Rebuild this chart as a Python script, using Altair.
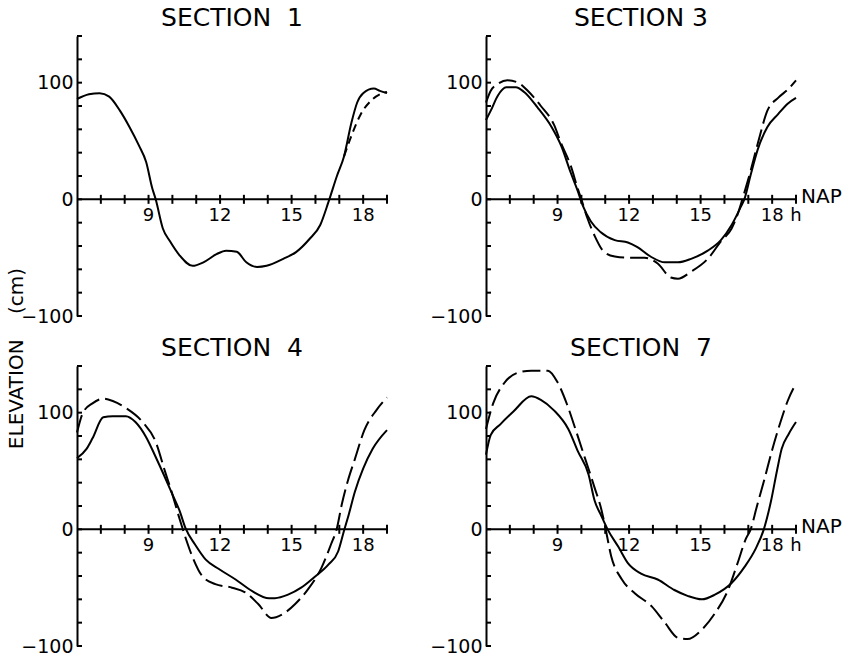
import altair as alt
import pandas as pd

# ---------------- data (hours, elevation in cm relative to NAP) ----------------
s1_solid_h = [6.0, 6.5, 6.95, 7.35, 7.8, 8.2, 8.6, 8.9, 9.15, 9.3, 9.6, 9.9, 10.3, 10.85, 11.3, 11.85,
              12.25, 12.7, 13.1, 13.55, 13.95, 14.65, 15.2, 15.75, 16.2, 16.55, 16.9, 17.2, 17.5,
              17.75, 18.0, 18.45, 18.7, 19.0]
s1_solid_cm = [86, 90, 91, 88, 76, 62, 46, 32, 10, 0, -25, -36, -48, -57, -54, -47,
               -44, -45, -54, -58, -57, -51, -45, -34, -22, -2, 20, 37, 65,
               83, 91, 95, 93, 91]
s1_dash_h = [17.2, 17.5, 17.9, 18.3, 18.7, 19.0]
s1_dash_cm = [37, 54, 73, 84, 90, 92]

s3_solid_h = [6.0, 6.2, 6.5, 6.85, 7.25, 7.6, 8.15, 8.75, 9.15, 9.55, 9.85, 10.05, 10.4, 10.8, 11.4,
              11.95, 12.35, 12.9, 13.5, 14.05, 14.6, 15.3, 15.85, 16.3, 16.65, 16.85, 17.1, 17.4,
              17.8, 18.25, 18.65, 19.0]
s3_solid_cm = [68, 76, 89, 96, 96, 92, 79, 62, 46, 23, 7, -5, -19, -28, -35,
               -37, -41, -49, -54, -54, -51, -44, -35, -22, -8, 1, 21, 43,
               62, 73, 82, 87]
s3_dash_h = [6.0, 6.2, 6.5, 6.9, 7.35, 7.75, 8.3, 8.85, 9.15, 9.55, 9.85, 10.0, 10.25, 10.55, 10.95,
             11.4, 11.95, 12.65, 13.2, 13.75, 14.05, 14.6, 15.3, 15.85, 16.3, 16.55, 16.75, 17.05,
             17.4, 17.8, 18.25, 18.65, 19.0]
s3_dash_cm = [83, 93, 99, 102, 100, 93, 80, 64, 48, 29, 9, 0, -16, -31, -45,
              -49, -50, -50, -55, -67, -68, -62, -51, -36, -25, -13, 0, 21,
              48, 76, 87, 94, 102]

s4_solid_h = [6.0, 6.4, 6.65, 7.1, 7.5, 8.05, 8.45, 8.9, 9.3, 9.7, 10.0, 10.3, 10.55, 10.95, 11.4,
              11.95, 12.65, 13.35, 14.05, 14.3, 14.85, 15.4, 15.95, 16.55, 16.95, 17.2, 17.4,
              17.65, 18.0, 18.4, 19.0]
s4_solid_cm = [61, 69, 78, 96, 97, 97, 92, 79, 62, 44, 30, 16, 1, -13, -26,
               -34, -43, -53, -59, -59, -56, -50, -41, -30, -19, -1, 13,
               32, 52, 69, 85]
s4_dash_h = [6.0, 6.25, 6.65, 7.1, 7.5, 8.05, 8.75, 9.3, 9.7, 10.0, 10.3, 10.5, 10.85, 11.25, 11.8,
             12.5, 13.05, 13.6, 14.15, 14.6, 15.15, 15.7, 16.25, 16.65, 16.9, 17.1, 17.35, 17.65,
             18.05, 18.55, 19.0]
s4_dash_cm = [83, 100, 108, 112, 110, 104, 92, 75, 49, 30, 9, -4, -24, -40, -47,
              -50, -54, -64, -76, -73, -64, -51, -33, -13, 1, 21, 41, 60,
              85, 102, 113]

s7_solid_h = [6.0, 6.2, 6.6, 7.15, 7.9, 8.3, 8.85, 9.45, 9.85, 10.3, 10.55, 10.85, 11.1, 11.55,
              11.95, 12.5, 13.2, 13.9, 14.45, 15.05, 15.6, 16.3, 16.85, 17.3, 17.65, 17.95,
              18.2, 18.4, 18.7, 19.0]
s7_solid_cm = [64, 81, 90, 101, 114, 111, 102, 86, 67, 47, 25, 11, 0, -15,
               -29, -38, -43, -52, -57, -60, -56, -46, -32, -17, 0, 24,
               50, 69, 82, 92]
s7_dash_h = [6.0, 6.3, 6.75, 7.3, 7.9, 8.6, 9.0, 9.4, 9.75, 10.15, 10.55, 10.85, 11.0, 11.25,
             11.7, 12.25, 12.95, 13.5, 14.05, 14.45, 15.05, 15.6, 16.15, 16.55, 16.9, 17.1, 17.35,
             17.65, 18.0, 18.35, 18.65, 19.0]
s7_dash_cm = [86, 108, 125, 134, 136, 136, 126, 107, 86, 61, 36, 16, 2, -23,
              -43, -55, -66, -80, -93, -94, -86, -72, -52, -29, -8, 0, 19,
              41, 68, 92, 110, 125]

titles = ["SECTION\u00a0\u00a01", "SECTION\u00a03", "SECTION\u00a0\u00a04", "SECTION\u00a0\u00a07"]
y_label_values = [-100, 0, 100]
y_tick_values = [-100, -80, -60, -40, -20, 0, 20, 40, 60, 80, 100, 120, 140]
x_tick_hours = [7, 8, 9, 10, 11, 12, 13, 14, 15, 16, 17, 18, 19]
x_label_hours = [9, 12, 15, 18]
x_labels = ["9", "12", "15", "18"]
y_title = "ELEVATION\u00a0\u00a0\u00a0\u00a0(cm)"

FONT = "DejaVu Sans"
XDOM = [6, 19]
YDOM = [-100, 140]


def panel(title, sh, scm, dh, dcm, dash, nap, ytitle=""):
    xs = alt.Scale(domain=XDOM, nice=False, zero=False)
    ys = alt.Scale(domain=YDOM, nice=False, zero=False)
    axis_kw = dict(values=y_label_values, ticks=False, grid=False, domainColor="black",
                   domainWidth=2, labelFontSize=19, labelPadding=4, labelFlush=False,
                   labelColor="black", labelFont=FONT, title=ytitle)
    if ytitle:
        # shared axis title, placed below the first panel (centred between the two rows)
        axis_kw.update(titleFontSize=20, titleFont=FONT, titleFontWeight="normal",
                       titleColor="black", titleX=-61, titleY=322, titleAngle=270,
                       titleAlign="center", titleBaseline="middle")
    X = alt.X("h:Q", scale=xs, axis=None)
    Y = alt.Y("cm:Q", scale=ys, axis=alt.Axis(**axis_kw))

    ytick_df = pd.DataFrame({"cm": y_tick_values})
    yticks = alt.Chart(ytick_df).mark_rule(color="black", strokeWidth=2).encode(
        y=Y, x=alt.value(0), x2=alt.value(5))

    base_df = pd.DataFrame({"h": [XDOM[0]], "h2": [XDOM[1]], "cm": [0]})
    xline = alt.Chart(base_df).mark_rule(color="black", strokeWidth=2).encode(
        x=X, x2="h2:Q", y=Y)

    xt_df = pd.DataFrame({"h": x_tick_hours, "cm": [0] * len(x_tick_hours)})
    xticks = alt.Chart(xt_df).mark_tick(orient="vertical", size=9, thickness=2,
                                        color="black", opacity=1).encode(x=X, y=Y)

    xl_df = pd.DataFrame({"h": x_label_hours, "cm": [0] * len(x_label_hours), "t": x_labels})
    xlabels = alt.Chart(xl_df).mark_text(baseline="top", dy=8, fontSize=18, font=FONT,
                                         color="black").encode(x=X, y=Y, text="t:N")

    solid = alt.Chart(pd.DataFrame({"h": sh, "cm": scm})).mark_line(
        color="black", strokeWidth=2, interpolate="monotone").encode(x=X, y=Y)
    dashed = alt.Chart(pd.DataFrame({"h": dh, "cm": dcm})).mark_line(
        color="black", strokeWidth=2, strokeDash=dash, interpolate="monotone").encode(x=X, y=Y)

    layers = [yticks, xline, xticks, xlabels, solid, dashed]
    if nap:
        nap_df = pd.DataFrame({"h": [XDOM[1]], "cm": [0], "t": ["NAP"]})
        layers.append(alt.Chart(nap_df).mark_text(align="left", baseline="middle", dx=5, dy=-2,
                                                  fontSize=20, font=FONT, color="black").encode(
            x=X, y=Y, text="t:N"))
        h_df = pd.DataFrame({"h": [XDOM[1]], "cm": [0], "t": ["h"]})
        layers.append(alt.Chart(h_df).mark_text(baseline="top", dy=8, fontSize=18, font=FONT,
                                                color="black").encode(x=X, y=Y, text="t:N"))

    return alt.layer(*layers).properties(
        width=310, height=280,
        title=alt.TitleParams(title, fontSize=25, font=FONT, fontWeight="normal", offset=4,
                              anchor="middle", color="black"))


p1 = panel(titles[0], s1_solid_h, s1_solid_cm, s1_dash_h, s1_dash_cm, [8, 5], False, y_title)
p3 = panel(titles[1], s3_solid_h, s3_solid_cm, s3_dash_h, s3_dash_cm, [18, 6], True)
p4 = panel(titles[2], s4_solid_h, s4_solid_cm, s4_dash_h, s4_dash_cm, [18, 6], False)
p7 = panel(titles[3], s7_solid_h, s7_solid_cm, s7_dash_h, s7_dash_cm, [18, 6], True)

chart = alt.concat(p1, p3, p4, p7, columns=2, spacing={"row": 50, "column": 99},
                   bounds="flush").configure_view(stroke="transparent").properties(
    background="white", padding={"left": 5, "top": 5, "right": 5, "bottom": 5})

chart.save("out.html", embed_options={"renderer": "svg", "actions": False})
